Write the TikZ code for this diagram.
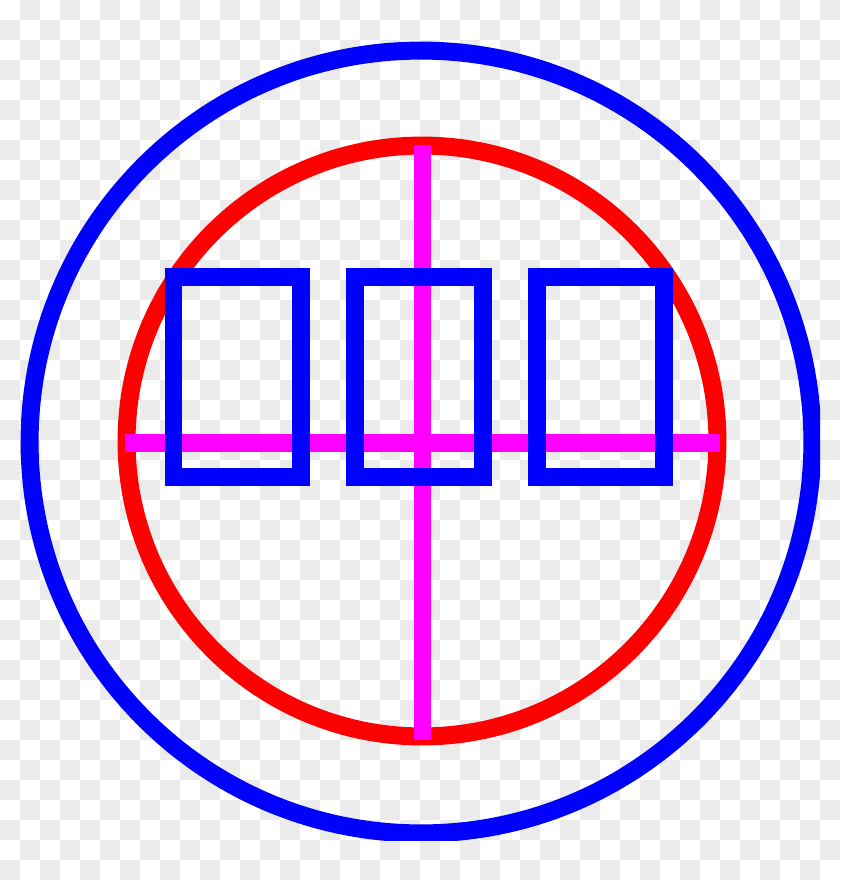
\documentclass[tikz,border=0pt]{standalone}
\usepackage{tikz}
\usepackage{xcolor}
\definecolor{checkgray}{HTML}{EBEBEB}
\definecolor{crossmag}{RGB}{255,0,255}
\definecolor{ringblue}{RGB}{0,0,255}
\definecolor{ringred}{RGB}{255,0,0}

\begin{document}
\begin{tikzpicture}[x=0.02cm,y=-0.02cm,
  ring/.style={line width=10.24pt},
  crossbar/.style={line width=10.24pt,crossmag},
  glyphbox/.style={line width=10.24pt,ringblue,line join=miter}]
\useasboundingbox (0,0) rectangle (840,880);
%%%%%%%%%%%%%%%%
\fill[white] (0,0) rectangle (840,880);
\foreach \i in {0,...,41}
  \foreach \j in {0,...,43}
  {\pgfmathparse{int(mod(\i+\j,2))}
   \ifnum\pgfmathresult=1 \fill[checkgray] (20*\i,20*\j) rectangle +(20,20);\fi}
%%%%%%%%%%%%%%%%
\begin{scope}
\clip (0,0) rectangle (820,840);
\draw[ring,ringblue] (421,442) circle [radius=7.83cm];
\draw[ring,ringred] (422,441) circle [radius=5.91cm];
%%%%%%%%%%%%%%%%
\draw[crossbar] (422.5,145) -- (422.5,740);
\draw[crossbar] (125,442.5) -- (720,442.5);
%%%%%%%%%%%%%%%%
\draw[glyphbox] (173.5,276.5) rectangle (301,476.7);
\draw[glyphbox] (355.3,276.5) rectangle (482.6,476.7);
\draw[glyphbox] (537,276.5) rectangle (664.4,476.7);
\end{scope}
\end{tikzpicture}
\end{document}
